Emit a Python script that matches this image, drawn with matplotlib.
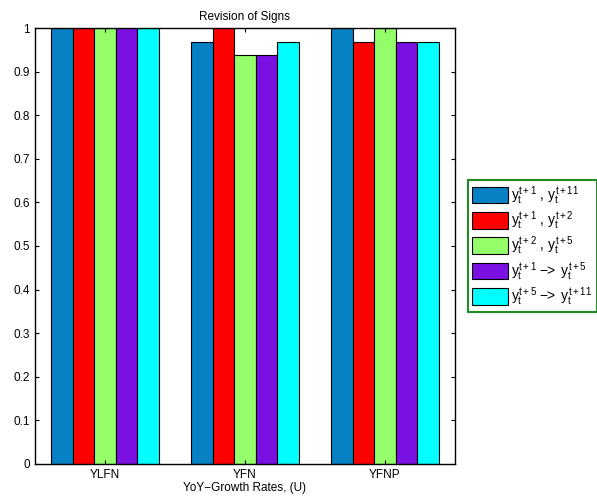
import matplotlib
matplotlib.use('Agg')
import matplotlib.pyplot as plt
import numpy as np

categories = ['YLFN', 'YFN', 'YFNP']
labels = [r'$y_t^{t+1}$ , $y_t^{t+11}$',
          r'$y_t^{t+1}$ , $y_t^{t+2}$',
          r'$y_t^{t+2}$ , $y_t^{t+5}$',
          r'$y_t^{t+1}$ $\mathrm{-\!\!>}$ $y_t^{t+5}$',
          r'$y_t^{t+5}$ $\mathrm{-\!\!>}$ $y_t^{t+11}$']
values = [
    [1.0, 0.969, 1.0],
    [1.0, 1.0, 0.969],
    [1.0, 0.938, 1.0],
    [1.0, 0.938, 0.969],
    [1.0, 0.969, 0.969],
]
colors = ['#0880C4', '#FF0000', '#94FF68', '#7A10E2', '#00FFFF']

plt.rcParams['font.family'] = ['Liberation Sans', 'DejaVu Sans']
plt.rcParams['mathtext.fontset'] = 'custom'
plt.rcParams['mathtext.rm'] = 'Liberation Sans'
plt.rcParams['mathtext.it'] = 'Liberation Sans'

fig = plt.figure(figsize=(5.97, 5.01), dpi=100)
ax = fig.add_axes([0.0586, 0.074, 0.7035, 0.870])

x = np.arange(1, len(categories) + 1)
w = 0.153
for i, (vals, c, lab) in enumerate(zip(values, colors, labels)):
    ax.bar(x + (i - 2) * w, vals, w, color=c, edgecolor='black', linewidth=0.8, label=lab)

ax.set_xlim(0.5, 3.5)
ax.set_ylim(0, 1)
ax.set_xticks(x)
ax.set_xticklabels(categories)
ax.set_yticks(np.arange(0, 1.01, 0.1))
ax.set_yticklabels(['0', '0.1', '0.2', '0.3', '0.4', '0.5', '0.6', '0.7', '0.8', '0.9', '1'])
ax.tick_params(direction='in', top=True, right=True, labelsize=8.5, length=3)
for s in ax.spines.values():
    s.set_linewidth(1.0)
ax.set_title('Revision of Signs', fontsize=8.5)
ax.set_xlabel('YoY\u2212Growth Rates, (U)', fontsize=8.5, labelpad=1)

leg = ax.legend(loc='center left', bbox_to_anchor=(1.02, 0.5), fontsize=10,
                fancybox=False, framealpha=1, edgecolor='#228B22',
                handlelength=2.6, handleheight=1.45, handletextpad=0.25,
                labelspacing=0.2, borderpad=0.3, borderaxespad=0.3)
leg.get_frame().set_linewidth(1.5)

fig.savefig('out.png', dpi=100)
